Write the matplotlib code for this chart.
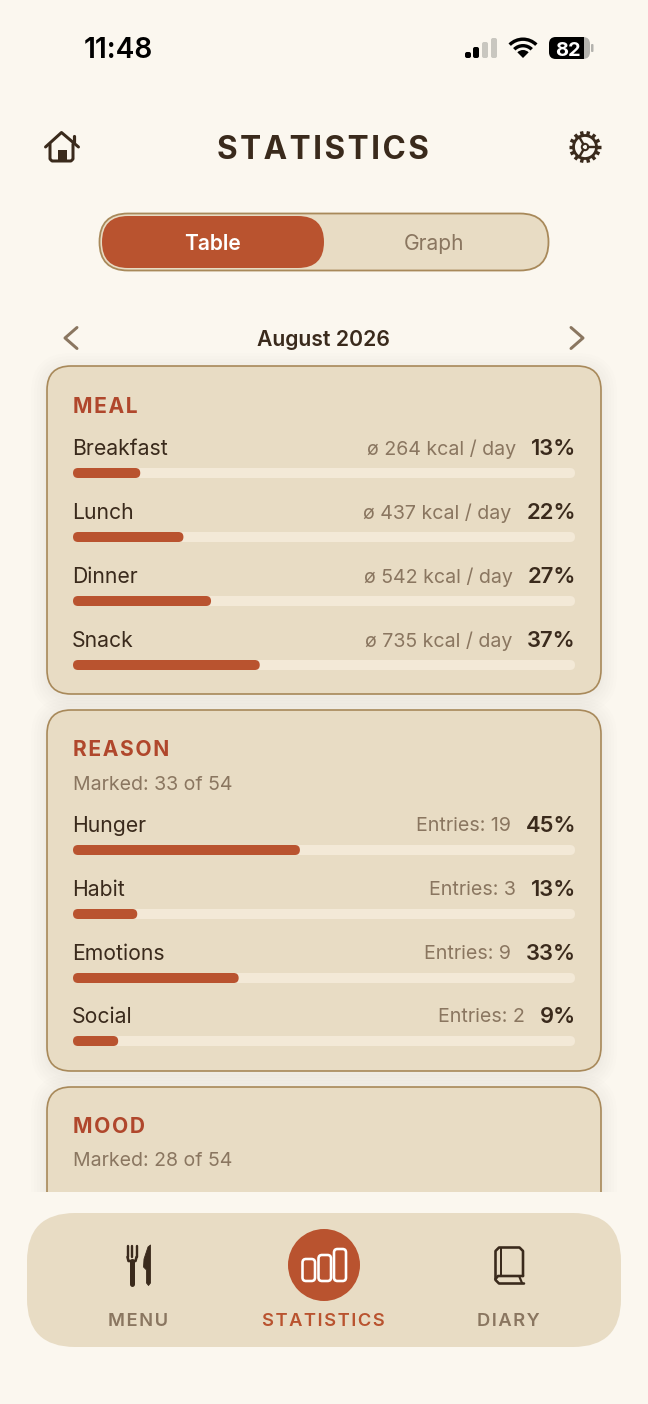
import numpy as np
import matplotlib
matplotlib.use("Agg")
import matplotlib.pyplot as plt
from matplotlib.patches import FancyBboxPatch, Rectangle, Circle, Wedge, Polygon, Ellipse

# data
meal_labels = ["Breakfast", "Lunch", "Dinner", "Snack"]
meal_notes = ["ø 264 kcal / day", "ø 437 kcal / day", "ø 542 kcal / day", "ø 735 kcal / day"]
meal_pct = [13, 22, 27, 37]
meal_bar = [13.4, 22.0, 27.5, 37.2]  # bar lengths

reason_labels = ["Hunger", "Habit", "Emotions", "Social"]
reason_notes = ["Entries: 19", "Entries: 3", "Entries: 9", "Entries: 2"]
reason_pct = [45, 13, 33, 9]
reason_bar = [45.2, 12.8, 33.0, 9.0]

nav_labels = ["MENU", "STATISTICS", "DIARY"]

# colours
BG = "#FBF7EF"
CARD = "#E8DCC4"
EDGE = "#A8895A"
ACCENT = "#B9532F"
HEAD = "#B0472C"
DARK = "#3A2A1C"
MUTED = "#8A7660"
TRACK = "#F3E9D7"

plt.rcParams["font.family"] = ["Inter", "DejaVu Sans"]

W, H = 648, 1404
fig = plt.figure(figsize=(W / 100, H / 100), dpi=100, facecolor=BG)
ax = fig.add_axes([0, 0, 1, 1])
ax.set_xlim(0, W)
ax.set_ylim(H, 0)
ax.axis("off")

# percent axis lying over the bar tracks
TX0, TX1 = 73, 575
bx = fig.add_axes([TX0 / W, 0, (TX1 - TX0) / W, 1])
bx.set_xlim(0, 100)
bx.set_ylim(H, 0)
bx.axis("off")
bx.patch.set_alpha(0)
bx.set_zorder(2)
PX_PER_PCT = (TX1 - TX0) / 100


def fs(px):
    return px * 0.72


def spaced(s):
    return "\u200a".join(s)


def rbox(x0, y0, x1, y1, r, a=ax, **kw):
    p = FancyBboxPatch((x0, y0), x1 - x0, y1 - y0,
                       boxstyle=f"round,pad=0,rounding_size={r}", **kw)
    a.add_patch(p)
    return p


def label(x, y, s, size, color=DARK, weight="normal", ha="left", z=5):
    return ax.text(x, y, s, fontsize=fs(size), color=color, fontweight=weight,
                   ha=ha, va="center_baseline", zorder=z)


def line(xs, ys, color=DARK, lw=2.5, z=5, cap="round"):
    ax.plot(xs, ys, color=color, lw=lw * 0.72, zorder=z,
            solid_capstyle=cap, solid_joinstyle="round")


def card(y0, y1):
    for grow in [16, 13, 10, 7, 4, 2]:
        rbox(47 - grow, y0 - grow + 3, 601 + grow, y1 + grow + 3, 24 + grow,
             fc="#6B4F2A", ec="none", alpha=0.008, zorder=1)
    rbox(47, y0, 601, y1, 24, fc=CARD, ec=EDGE, lw=1.2, zorder=1.5)


def bar_row(y_text, y_bar, name, note, pct, length):
    label(TX0 - 0.8, y_text, name, 21.2)
    p = label(TX1 + 1, y_text, f"{pct}%", 22, weight="semibold", ha="right")
    left = p.get_window_extent(fig.canvas.get_renderer()).x0
    ax.text(left - 15, y_text, note, fontsize=fs(19.6), color=MUTED, ha="right",
            va="center_baseline", zorder=5)
    # track and value in percent units; aspect keeps the corners round
    for value, colour, z in [(100, TRACK, 3), (length, ACCENT, 4)]:
        bx.add_patch(FancyBboxPatch((0, y_bar - 5), value, 10,
                                    boxstyle=f"round,pad=0,rounding_size={5 / PX_PER_PCT}",
                                    mutation_aspect=PX_PER_PCT,
                                    fc=colour, ec="none", zorder=z))


# status bar
label(84, 48, "11:48", 28, color="black", weight="semibold")
for x, top, col in zip([465, 473, 482, 491], [52, 47, 42, 38],
                       ["black", "black", "#C9C7C0", "#C9C7C0"]):
    rbox(x, top, x + 6, 58, 2, fc=col, ec="none", zorder=5)
ax.add_patch(Wedge((523, 58), 8, 225, 315, fc="black", ec="none", zorder=5))
ax.add_patch(Wedge((523, 58), 14, 225, 315, width=3.4, fc="black", ec="none", zorder=5))
ax.add_patch(Wedge((523, 58), 20.5, 225, 315, width=3.4, fc="black", ec="none", zorder=5))
batt = rbox(549, 37, 590, 59, 7, fc="#B4B3AE", ec="none", zorder=5)
fill = Rectangle((549, 37), 35, 22, fc="black", ec="none", zorder=5.1)
ax.add_patch(fill)
fill.set_clip_path(batt)
rbox(591, 44, 593.5, 52, 1, fc="#B4B3AE", ec="none", zorder=5)
label(568, 49, "82", 20, color="white", weight="bold", ha="center", z=6)

# header
label(323, 147, spaced("STATISTICS"), 31.5, weight="bold", ha="center")

# home icon
line([45.5, 61.5, 78.5], [147, 132.5, 147], lw=3)
line([73.5, 73.5], [135.5, 142], lw=3.2)
line([50, 50, 52, 71, 73, 73], [144, 159, 161, 161, 159, 144], lw=3)
ax.add_patch(Rectangle((58, 150), 9, 11, fc=DARK, ec="none", zorder=5))

# gear icon
GX, GY = 585, 147
ax.add_patch(Circle((GX, GY), 11.5, fc="none", ec=DARK, lw=2.8 * 0.72, zorder=5))
ax.add_patch(Circle((GX, GY), 3.2, fc="none", ec=DARK, lw=2.0 * 0.72, zorder=5))
for a in np.deg2rad(np.linspace(0, 360, 15)[:-1]):
    line([GX + 11 * np.cos(a), GX + 16 * np.cos(a)],
         [GY + 11 * np.sin(a), GY + 16 * np.sin(a)], lw=3.4, cap="butt")
for a in np.deg2rad([0, 120, 240]):
    line([GX + 3 * np.cos(a), GX + 12 * np.cos(a)],
         [GY + 3 * np.sin(a), GY + 12 * np.sin(a)], lw=2.4)

# table / graph toggle
rbox(99.5, 213.5, 548.5, 270.5, 28.5, fc=CARD, ec=EDGE, lw=1.3, zorder=2)
rbox(102, 216, 324, 268, 26, fc=ACCENT, ec="none", zorder=3)
label(212.5, 241.5, "Table", 21, color="white", weight="semibold", ha="center")
label(434, 241.5, "Graph", 21, color=MUTED, ha="center")

# month row
label(323.5, 338, "August 2026", 21.2, weight="semibold", ha="center")
line([77, 65, 77], [327.5, 338, 348.5], color=MUTED, lw=3)
line([571, 583, 571], [327.5, 338, 348.5], color=MUTED, lw=3)

# meal card
card(366, 694)
label(TX0, 405, spaced("MEAL"), 21, color=HEAD, weight="bold")
for i in range(len(meal_labels)):
    y = [447, 511, 575, 639][i]
    bar_row(y, y + 26, meal_labels[i], meal_notes[i], meal_pct[i], meal_bar[i])

# reason card
card(710, 1071)
label(TX0, 748, spaced("REASON"), 21, color=HEAD, weight="bold")
label(TX0, 783, "Marked: 33 of 54", 19.5, color=MUTED)
for i in range(len(reason_labels)):
    y = [824, 888, 952, 1015][i]
    bar_row(y, y + 26, reason_labels[i], reason_notes[i], reason_pct[i], reason_bar[i])

# mood card, cut off by the tab bar area
card(1087, 1300)
label(TX0, 1125, spaced("MOOD"), 21, color=HEAD, weight="bold")
label(TX0, 1159, "Marked: 28 of 54", 19.5, color=MUTED)
ax.add_patch(Rectangle((0, 1192), W, H - 1192, fc=BG, ec="none", zorder=6))

# tab bar
rbox(27, 1213, 621, 1347, 48, fc=CARD, ec="none", zorder=7)
ax.add_patch(Ellipse((324, 1265), 72, 72, fc=ACCENT, ec="none", zorder=8))
nav_x = [138.5, 323.5, 508.5]
nav_col = [MUTED, ACCENT, MUTED]
for x, s, c in zip(nav_x, nav_labels, nav_col):
    label(x, 1320, spaced(s), 18.3, color=c, weight="semibold", ha="center", z=8)

# fork
for x in [127.5, 132, 136.5]:
    line([x, x], [1246, 1257], lw=2.4, z=8)
line([127.5, 128.5, 135.5, 136.5], [1257, 1261, 1261, 1257], lw=2.6, z=8)
line([132, 132], [1261, 1284], lw=5, z=8)
# knife
ax.add_patch(Polygon([(150.5, 1245), (148, 1247), (144, 1259), (143.5, 1267),
                      (146.5, 1270), (146.5, 1283), (148.5, 1285.5), (150.5, 1283)],
                     fc=DARK, ec=DARK, lw=0.6, joinstyle="round", zorder=8))

# bars icon inside the circle
for x0, x1, top in [(302.5, 315, 1259), (318.5, 331, 1255), (334, 346, 1249)]:
    rbox(x0, top, x1, 1281, 3.5, fc="none", ec="white", lw=2.6 * 0.72, zorder=9)

# book
line([523, 523, 519.5, 499, 495.5, 495.5, 499, 524],
     [1276, 1251, 1247.5, 1247.5, 1251, 1280, 1283.5, 1283.5], lw=2.6, z=8)
line([501, 501], [1248, 1276], lw=2, z=8)
line([495.5, 498, 523], [1279, 1276, 1276], lw=2.6, z=8)
line([519.5, 522], [1277, 1283], lw=2.2, z=8)

fig.savefig("out.png", dpi=100, facecolor=BG)
